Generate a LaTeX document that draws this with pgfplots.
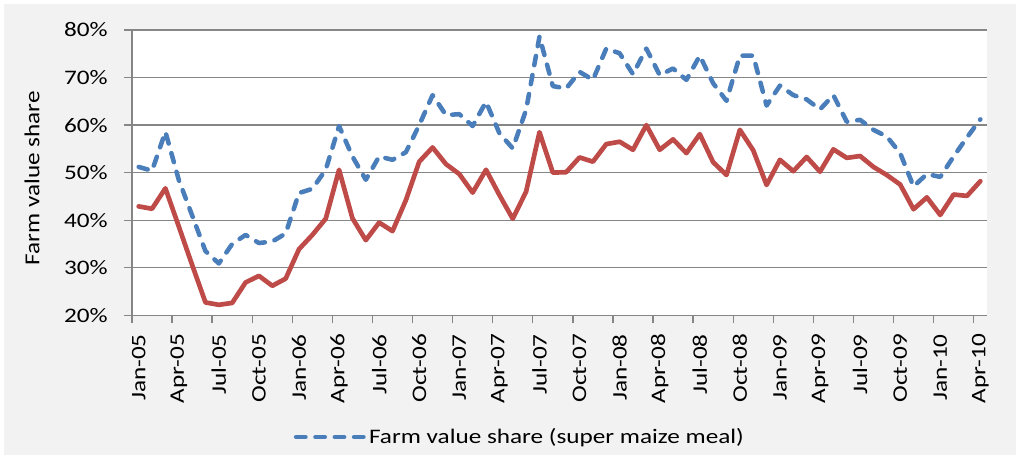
\documentclass[border=0pt]{standalone}
\usepackage{fontspec}
\setmainfont{Carlito}[FakeStretch=1.22]
\newfontfamily\labfont{Carlito}[FakeStretch=1.18]
\usepackage{pgfplots}
\pgfplotsset{compat=1.18}
\definecolor{bgc}{HTML}{F2F2F2}
\definecolor{blu}{HTML}{4A7EBB}
\definecolor{redc}{HTML}{BE4B48}
\definecolor{gridc}{HTML}{868686}
\newcommand{\fs}{\fontsize{15.5}{18}\selectfont}
\begin{document}
\begin{tikzpicture}
\fill[white] (0pt,0pt) rectangle (765pt,344.25pt);
\fill[bgc] (3pt,3pt) rectangle (762pt,341.25pt);
\begin{axis}[
  at={(99pt,107.78pt)}, anchor=south west,
  scale only axis, width=641.25pt, height=213.98pt,
  xmin=-0.5, xmax=63.5, ymin=20, ymax=80,
  axis background/.style={fill=white},
  axis x line*=bottom, axis y line*=left,
  axis line style={-, gridc, line width=1pt},
  tick align=outside, major tick length=6pt,
  tick style={gridc, line width=1pt},
  xtick={-0.5,2.5,...,62.5}, xticklabels={},
  extra x ticks={0,3,...,63},
  extra x tick labels={Jan-05,Apr-05,Jul-05,Oct-05,Jan-06,Apr-06,Jul-06,Oct-06,Jan-07,Apr-07,Jul-07,Oct-07,Jan-08,Apr-08,Jul-08,Oct-08,Jan-09,Apr-09,Jul-09,Oct-09,Jan-10,Apr-10},
  extra x tick style={major tick length=0pt, xmajorgrids=false,
     tick label style={rotate=90, anchor=east, inner sep=0pt, font=\fs}},
  xticklabel shift=14pt,
  ytick={20,30,...,80},
  yticklabel={\pgfmathprintnumber{\tick}\%},
  yticklabel style={anchor=east, inner sep=0pt, font=\fs},
  yticklabel shift=12pt,
  /pgf/number format/assume math mode=true,
  ymajorgrids, major grid style={gridc, line width=1pt},
  ylabel={Farm value share},
  ylabel style={at={(axis description cs:-0.117,0.48)}, anchor=center, font=\labfont\fontsize{16}{18}\selectfont},
  legend style={at={(axis description cs:0.454,-0.4266)}, anchor=center, draw=none, fill=none, font=\fs, inner sep=0pt},
  legend image code/.code={\draw[#1] (0pt,0pt) -- (51pt,0pt);},
]
\addplot[redc, line width=3.5pt, line join=round, line cap=round, forget plot] coordinates {
(0,42.9) (1,42.4) (2,46.7) (3,38.7) (4,30.6) (5,22.7) (6,22.2) (7,22.6) (8,26.9) (9,28.3)
(10,26.2) (11,27.7) (12,33.9) (13,36.9) (14,40.3) (15,50.6) (16,40.4) (17,35.8) (18,39.5) (19,37.7)
(20,44.2) (21,52.3) (22,55.3) (23,51.8) (24,49.7) (25,45.8) (26,50.6) (27,45.3) (28,40.3) (29,46.0)
(30,58.5) (31,50.0) (32,50.1) (33,53.2) (34,52.3) (35,56.0) (36,56.5) (37,54.8) (38,60.0) (39,54.8)
(40,57.0) (41,54.1) (42,58.1) (43,52.2) (44,49.5) (45,59.0) (46,54.7) (47,47.4) (48,52.7) (49,50.3)
(50,53.3) (51,50.2) (52,54.9) (53,53.1) (54,53.5) (55,51.2) (56,49.5) (57,47.5) (58,42.3) (59,44.8)
(60,41.1) (61,45.4) (62,45.1) (63,48.2)};
\addplot[blu, line width=3.4pt, line join=round, line cap=round, dash pattern=on 7pt off 7.5pt] coordinates {
(0,51.2) (1,50.4) (2,58.6) (3,48.5) (4,41.0) (5,33.5) (6,30.9) (7,35.0) (8,36.9) (9,35.2)
(10,35.5) (11,37.2) (12,45.7) (13,46.6) (14,50.6) (15,59.8) (16,53.4) (17,48.5) (18,53.4) (19,52.7)
(20,54.3) (21,60.0) (22,66.3) (23,62.1) (24,62.3) (25,59.8) (26,64.9) (27,58.3) (28,55.1) (29,63.2)
(30,78.6) (31,68.2) (32,67.7) (33,71.2) (34,69.5) (35,76.1) (36,75.1) (37,70.7) (38,76.1) (39,70.5)
(40,71.9) (41,69.5) (42,74.6) (43,68.8) (44,65.1) (45,74.6) (46,74.6) (47,64.1) (48,68.3) (49,66.3)
(50,65.4) (51,63.3) (52,66.3) (53,60.7) (54,61.1) (55,59.0) (56,57.6) (57,54.1) (58,47.1) (59,49.7)
(60,49.1) (61,53.4) (62,57.4) (63,61.2)};
\addlegendentry{Farm value share (super maize meal)}
\end{axis}
\end{tikzpicture}
\end{document}
